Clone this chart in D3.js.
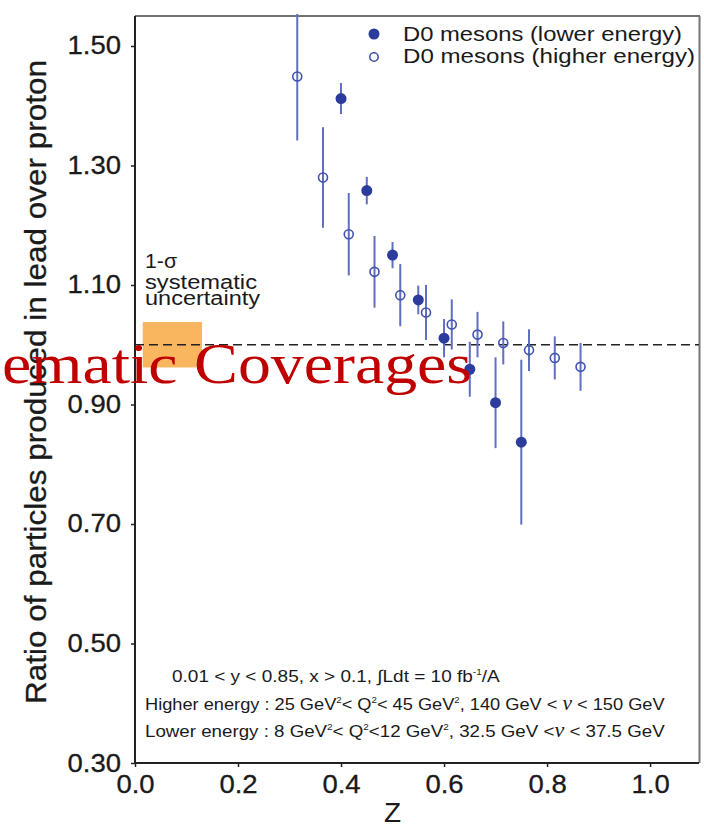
<!DOCTYPE html>
<html>
<head>
<meta charset="utf-8">
<script src="https://cdn.jsdelivr.net/npm/d3@7"></script>
<style>
  body { margin: 0; background: #fff; }
  text { font-family: "Liberation Sans", Arial, Helvetica, sans-serif; fill: #1a1a1a; }
</style>
</head>
<body>
<svg id="chart" width="704" height="829"></svg>
<script>
// values
const lowerZ = [0.40, 0.45, 0.50, 0.55, 0.60, 0.65, 0.70, 0.75];
const lowerRatio = [1.412, 1.258, 1.150, 1.075, 1.011, 0.959, 0.903, 0.837];
const lowerErr = [0.026, 0.023, 0.022, 0.024, 0.032, 0.046, 0.076, 0.138];

const higherZ = [0.315, 0.365, 0.415, 0.465, 0.515, 0.565, 0.615, 0.665, 0.715, 0.765, 0.815, 0.865];
const higherRatio = [1.449, 1.280, 1.185, 1.122, 1.083, 1.054, 1.034, 1.017, 1.003, 0.991, 0.978, 0.963];
const higherErr = [0.107, 0.084, 0.069, 0.060, 0.052, 0.046, 0.042, 0.038, 0.036, 0.035, 0.036, 0.040];

const sysBoxZ = [0.015, 0.13];
const sysBoxRatio = [0.962, 1.038];
const refLine = 1.0;

const xTicks = [0.0, 0.2, 0.4, 0.6, 0.8, 1.0];
const yTicks = [0.30, 0.50, 0.70, 0.90, 1.10, 1.30, 1.50];

const legendLabels = ["D0 mesons (lower energy)", "D0 mesons (higher energy)"];

const fillBlue = "#2c3c9c";
const openBlue = "#4152b2";
const barBlue = "#5f6fc2";

const svg = d3.select("#chart");

const x = d3.scaleLinear().domain([0, 1.095]).range([135, 699]);
const y = d3.scaleLinear().domain([0.30, 1.5502]).range([763, 16]);

// stretch text horizontally (the figure is wider than plain Arial)
function stretch(sel, k) {
    sel.each(function() {
        const w = this.getComputedTextLength();
        this.setAttribute("textLength", w * k);
        this.setAttribute("lengthAdjust", "spacingAndGlyphs");
    });
}
function fitWidth(sel, target) {
    sel.attr("textLength", target).attr("lengthAdjust", "spacingAndGlyphs");
}

// frame top / right
svg.append("line").attr("x1", 135).attr("x2", 700).attr("y1", 16).attr("y2", 16)
    .attr("stroke", "#444").attr("stroke-width", 1.5);
svg.append("line").attr("x1", 699.5).attr("x2", 699.5).attr("y1", 16).attr("y2", 763)
    .attr("stroke", "#777").attr("stroke-width", 2);

// systematic box
svg.append("rect")
    .attr("x", x(sysBoxZ[0])).attr("width", x(sysBoxZ[1]) - x(sysBoxZ[0]))
    .attr("y", y(sysBoxRatio[1])).attr("height", y(sysBoxRatio[0]) - y(sysBoxRatio[1]))
    .attr("fill", "#fab65e");

// dashed line at 1
svg.append("line")
    .attr("x1", x(0)).attr("x2", 699).attr("y1", y(refLine)).attr("y2", y(refLine))
    .attr("stroke", "#222").attr("stroke-width", 1.6).attr("stroke-dasharray", "9,5");

// axes
const yAxis = svg.append("g").attr("transform", "translate(135,0)")
    .call(d3.axisLeft(y).tickValues(yTicks).tickFormat(d3.format(".2f")).tickSize(4).tickPadding(10).tickSizeOuter(0));
const xAxis = svg.append("g").attr("transform", "translate(0,763)")
    .call(d3.axisBottom(x).tickValues(xTicks).tickFormat(d3.format(".1f")).tickSize(4).tickPadding(8).tickSizeOuter(0));

[xAxis, yAxis].forEach(a => {
    a.select(".domain").attr("stroke", "#222").attr("stroke-width", 2);
    a.selectAll(".tick line").attr("stroke", "#222").attr("stroke-width", 1.5);
    a.selectAll(".tick text").attr("font-size", 25).attr("fill", "#1a1a1a")
        .attr("stroke", "#1a1a1a").attr("stroke-width", 0.3)
        .style("font-family", "'Liberation Sans', Arial, sans-serif");
});
xAxis.select(".domain").attr("d", "M135,0H699");
yAxis.select(".domain").attr("d", "M0,16V764");
stretch(yAxis.selectAll(".tick text"), 1.1);
stretch(xAxis.selectAll(".tick text"), 1.1);

// axis titles
svg.append("text")
    .attr("transform", "translate(46,382) rotate(-90)")
    .attr("text-anchor", "middle")
    .attr("font-size", 29)
    .attr("stroke", "#1a1a1a").attr("stroke-width", 0.3)
    .text("Ratio of particles produced in lead over proton")
    .call(fitWidth, 644);

svg.append("text")
    .attr("x", x(0.5)).attr("y", 822)
    .attr("text-anchor", "middle")
    .attr("font-size", 28)
    .text("Z");

// error bars
const higher = higherZ.map((z, i) => ({z: z, r: higherRatio[i], e: higherErr[i]}));
const lower = lowerZ.map((z, i) => ({z: z, r: lowerRatio[i], e: lowerErr[i]}));

svg.append("g")
    .attr("stroke", barBlue).attr("stroke-width", 2)
    .selectAll("line")
    .data(higher.concat(lower))
    .join("line")
    .attr("x1", d => x(d.z)).attr("x2", d => x(d.z))
    .attr("y1", d => Math.max(14, y(d.r + d.e)))
    .attr("y2", d => y(d.r - d.e));

svg.append("g")
    .selectAll("circle")
    .data(higher)
    .join("circle")
    .attr("cx", d => x(d.z)).attr("cy", d => y(d.r))
    .attr("r", 4.5)
    .attr("fill", "none").attr("stroke", openBlue).attr("stroke-width", 1.6);

svg.append("g")
    .selectAll("circle")
    .data(lower)
    .join("circle")
    .attr("cx", d => x(d.z)).attr("cy", d => y(d.r))
    .attr("r", 5.5)
    .attr("fill", fillBlue);

// legend
const legend = svg.append("g");
legend.append("circle").attr("cx", 374).attr("cy", 34).attr("r", 5.5).attr("fill", fillBlue);
legend.append("circle").attr("cx", 374).attr("cy", 57).attr("r", 4.2)
    .attr("fill", "none").attr("stroke", openBlue).attr("stroke-width", 1.6);
legend.append("text").attr("x", 403).attr("y", 41).attr("font-size", 21).text(legendLabels[0]).call(fitWidth, 279);
legend.append("text").attr("x", 403).attr("y", 63).attr("font-size", 21).text(legendLabels[1]).call(fitWidth, 292);

// 1-sigma label
const sysLines = [["1-\u03c3", 268, 32], ["systematic", 289, 112], ["uncertainty", 305, 115]];
sysLines.forEach(l => {
    svg.append("text").attr("x", 145).attr("y", l[1]).attr("font-size", 20)
        .text(l[0]).call(fitWidth, l[2]);
});

// kinematic notes (with superscripts)
const sup = (t, s) => t.append("tspan").attr("dy", -7).attr("font-size", 9).text(s);
const back = (t, s) => t.append("tspan").attr("dy", 7).text(s);
const nu = t => t.append("tspan").attr("font-family", "'Liberation Serif', 'Times New Roman', serif")
    .attr("font-style", "italic").attr("font-size", 20).text("\u03bd");

function noteLine(x0, y0, target, build) {
    const g = svg.append("g");
    const t = g.append("text").attr("font-size", 17);
    build(t);
    const w = t.node().getComputedTextLength();
    g.attr("transform", `translate(${x0},${y0}) scale(${target / w},1)`);
}

noteLine(172, 682, 328, t => {
    t.append("tspan").text("0.01 < y < 0.85, x > 0.1, \u222bLdt = 10 fb");
    sup(t, "-1");
    back(t, "/A");
});
noteLine(145, 710, 520, t => {
    t.append("tspan").text("Higher energy : 25 GeV");
    sup(t, "2");
    back(t, "< Q");
    sup(t, "2");
    back(t, "< 45 GeV");
    sup(t, "2");
    back(t, ", 140 GeV < ");
    nu(t);
    t.append("tspan").text("  < 150 GeV");
});
noteLine(145, 737, 520, t => {
    t.append("tspan").text("Lower energy  : 8 GeV");
    sup(t, "2");
    back(t, "< Q");
    sup(t, "2");
    back(t, "<12 GeV");
    sup(t, "2");
    back(t, ", 32.5 GeV <");
    nu(t);
    t.append("tspan").text("  < 37.5 GeV");
});

// red overlay text
svg.append("text")
    .attr("x", 2).attr("y", 383)
    .attr("font-size", 57)
    .style("font-family", "'Liberation Serif', 'Times New Roman', serif")
    .style("fill", "#c00000")
    .text("ematic Coverages")
    .call(fitWidth, 470);
</script>
</body>
</html>
